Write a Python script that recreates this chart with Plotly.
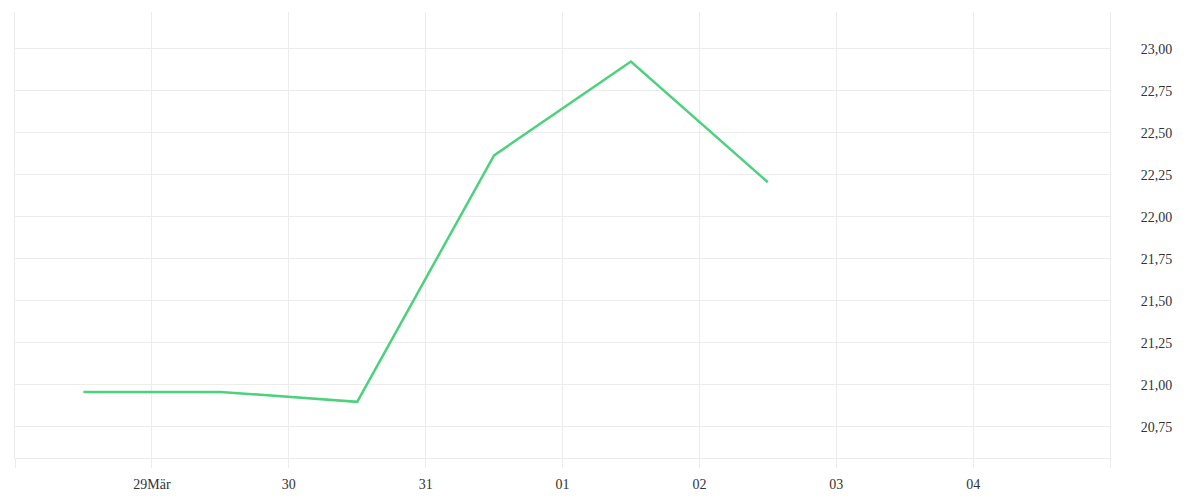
import plotly.graph_objects as go

# daily values, sampled at noon
dates = [
    "2024-03-28 12:00",
    "2024-03-29 12:00",
    "2024-03-30 12:00",
    "2024-03-31 12:00",
    "2024-04-01 12:00",
    "2024-04-02 12:00",
]
values = [20.958, 20.958, 20.899, 22.365, 22.923, 22.205]

tick_dates = [
    "2024-03-28", "2024-03-29", "2024-03-30", "2024-03-31",
    "2024-04-01", "2024-04-02", "2024-04-03", "2024-04-04", "2024-04-05",
]
tick_labels = ["", "29Mär", "30", "31", "01", "02", "03", "04", ""]

GRID = "#ececec"
FONT = dict(family="Liberation Serif", size=14, color="#333333")

fig = go.Figure(
    go.Scatter(
        x=dates,
        y=values,
        mode="lines",
        line=dict(color="#4cd27c", width=2.5),
        hoverinfo="x+y",
    )
)

fig.update_layout(
    width=1200,
    height=500,
    margin=dict(l=7, r=98, t=4, b=50),
    paper_bgcolor="white",
    plot_bgcolor="white",
    separators=",.",
    showlegend=False,
    font=FONT,
    xaxis=dict(
        type="date",
        range=["2024-03-28", "2024-04-05"],
        tickmode="array",
        tickvals=tick_dates,
        ticktext=tick_labels,
        showgrid=True,
        gridcolor=GRID,
        gridwidth=1,
        showline=True,
        linecolor=GRID,
        linewidth=1,
        ticks="outside",
        ticklen=9,
        tickcolor=GRID,
        ticklabelstandoff=4,
        zeroline=False,
        tickfont=FONT,
    ),
    yaxis=dict(
        side="right",
        range=[20.565, 23.218],
        dtick=0.25,
        tick0=20.75,
        tickformat=".2f",
        showgrid=True,
        gridcolor=GRID,
        gridwidth=1,
        showline=True,
        mirror=True,
        linecolor=GRID,
        linewidth=1,
        ticks="",
        ticklabelstandoff=27,
        zeroline=False,
        tickfont=FONT,
    ),
)

fig.write_html("out.html")
